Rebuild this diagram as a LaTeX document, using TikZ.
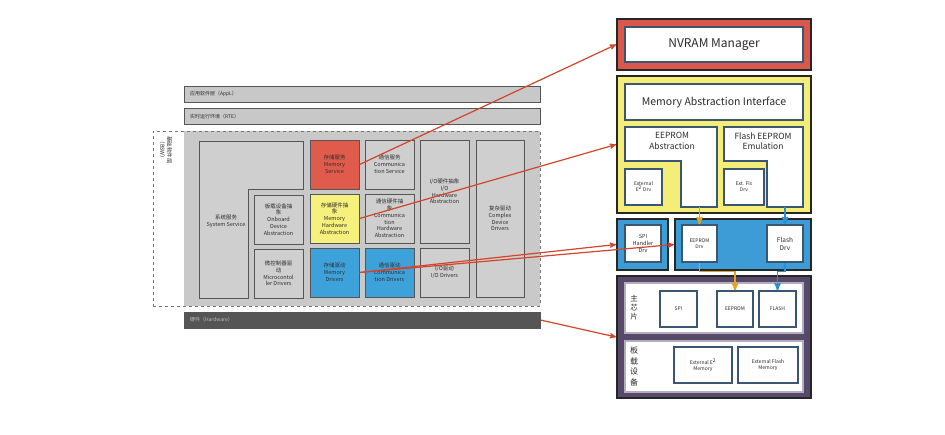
\documentclass[tikz,border=0pt]{standalone}
\usepackage{fontspec}
\setmainfont{Noto Sans CJK SC}
\usepackage{tikz}
\usetikzlibrary{arrows,positioning,calc}

\definecolor{barline}{HTML}{555555}
\definecolor{bargray}{HTML}{C8C8C8}
\definecolor{hwdark}{HTML}{555555}
\definecolor{bswgray}{HTML}{C9C9C9}
\definecolor{modgray}{HTML}{CFCFCF}
\definecolor{modtext}{HTML}{2E2E2E}
\definecolor{memred}{HTML}{E15B4C}
\definecolor{memyellow}{HTML}{F6F07C}
\definecolor{memblue}{HTML}{3EA2DA}
\definecolor{nvred}{HTML}{DA574C}
\definecolor{abyellow}{HTML}{F4EE78}
\definecolor{drvblue}{HTML}{3D9BD6}
\definecolor{hwpurple}{HTML}{56496A}
\definecolor{cellline}{HTML}{3B5673}
\definecolor{celltext}{HTML}{2B2B2B}
\definecolor{linkred}{HTML}{D2452B}
\definecolor{eeporange}{HTML}{E0A526}
\definecolor{flsblue}{HTML}{2B8FD6}

\tikzset{
    layerbar/.style={
           rectangle,
           draw=barline, line width=0.8pt,
           fill=bargray,
           minimum height=16pt,
           text width=344pt,
           inner xsep=6pt, inner ysep=0pt,
           align=left,
           text=modtext,
           font=\fontsize{5}{6}\selectfont,
           },
    module/.style={
           rectangle,
           draw=barline, line width=1pt,
           fill=modgray,
           minimum width=49pt,
           minimum height=49pt,
           inner sep=0pt,
           align=center,
           text=modtext,
           font=\fontsize{5.5}{6.8}\selectfont,
           },
    modlabel/.style={
           align=center,
           inner sep=0pt,
           text=modtext,
           font=\fontsize{5.5}{6.8}\selectfont,
           },
    outerbox/.style={
           rectangle,
           draw=black!85, line width=1.8pt,
           minimum width=194pt,
           inner sep=0pt,
           },
    cell/.style={
           rectangle,
           draw=cellline, line width=1.2pt,
           fill=white,
           inner sep=0pt,
           align=center,
           text=celltext,
           font=\fontsize{5}{6}\selectfont,
           },
    celllabel/.style={
           align=center,
           inner sep=0pt,
           text=celltext,
           },
    link/.style={
           ->, >=stealth', draw=linkred, line width=1.2pt,
           },
    feed/.style={
           ->, >=stealth', line width=1.6pt,
           },
}

\begin{document}
\begin{tikzpicture}[x=1pt,y=-1pt]

 \useasboundingbox[fill=white] (0,0) rectangle (945,434);

 % LEFT: layered architecture
 \node[layerbar] (APPL) at (362,94) {应用软件层（AppL）};
 \node[layerbar] (RTE) at (362,116.5) {实时运行环境（RTE）};

 % BSW area, gray part first, dashed frame on top
 \fill[bswgray] (184,131) rectangle (540,306);
 \node[rectangle, draw=black!55, dashed, line width=0.7pt,
 minimum width=387pt, minimum height=175pt] (BSW) at (346.5,218.5) {};
 \node[modlabel, rotate=-90,
 font=\fontsize{5.5}{7}\selectfont] (BSWLABEL) at (166,150)
 {基础软件层\\（BSW）};

 \node[layerbar, fill=hwdark, text=black!25] (HW) at (362,320)
 {硬件（Hardware）};

 % system service is an L shape
 \filldraw[draw=barline, fill=modgray, line width=1pt]
 (199,141) -- (303,141) -- (303,189) -- (248,189)
 -- (248,298) -- (199,298) -- cycle;
 \node[modlabel] (SYSSRV) at (226,221) {系统服务\\System Service};

 \node[module] (ONBOARD) at (278.5,219.5)
 {板载设备抽\\象\\Onboard\\Device\\Abstraction};
 \node[module] (MICRO) at (278.5,273.5)
 {微控制器驱\\动\\Microcontol\\ler Drivers};

 % memory stack
 \node[module, fill=memred] (MEMSRV) at (334.5,164.5)
 {存储服务\\Memory\\Service};
 \node[module, fill=memyellow] (MEMHW) at (334.5,218.5)
 {存储硬件抽\\象\\Memory\\Hardware\\Abstraction};
 \node[module, fill=memblue] (MEMDRV) at (334.5,272.5)
 {存储驱动\\Memory\\Drivers};

 % communication stack
 \node[module] (COMSRV) at (389.5,164.5)
 {通信服务\\Communica\\tion Service};
 \node[module] (COMHW) at (389.5,218.5)
 {通信硬件抽\\象\\Communica\\tion\\Hardware\\Abstraction};
 \node[module, fill=memblue] (COMDRV) at (389.5,272.5)
 {通信驱动\\Communica\\tion Drivers};

 % I/O stack
 \node[module, minimum height=103pt] (IOHW) at (444.5,191.5)
 {I/O硬件抽象\\I/O\\Hardware\\Abstraction};
 \node[module] (IODRV) at (444.5,272.5) {I/O驱动\\I/O Drivers};

 \node[module, minimum width=48pt, minimum height=157pt] (CDD) at (500,218.5)
 {复杂驱动\\Complex\\Device\\Drivers};

 % RIGHT: memory stack in detail
 \node[outerbox, fill=nvred, minimum height=51pt] (NVRAMBOX) at (714,44.5) {};
 \node[cell, minimum width=178pt, minimum height=35pt,
 font=\fontsize{12}{14}\selectfont] (NVRAM) at (714,44.5) {NVRAM Manager};

 \node[outerbox, fill=abyellow, minimum height=137pt] (ABBOX) at (714,144.5) {};
 \node[cell, minimum width=178pt, minimum height=36pt,
 font=\fontsize{10.5}{12}\selectfont] (MAI) at (714,102)
 {Memory Abstraction Interface};

 % the two abstractions are L shapes
 \filldraw[draw=cellline, fill=white, line width=1.2pt]
 (625,127) -- (717,127) -- (717,207) -- (681,207)
 -- (681,161) -- (625,161) -- cycle;
 \node[celllabel, font=\fontsize{8.5}{10.5}\selectfont] (EEPABS) at (672,141)
 {EEPROM\\Abstraction};
 \filldraw[draw=cellline, fill=white, line width=1.2pt]
 (724,127) -- (803,127) -- (803,207) -- (767,207)
 -- (767,161) -- (724,161) -- cycle;
 \node[celllabel, font=\fontsize{8.5}{10.5}\selectfont] (FLSEMU) at (763,141)
 {Flash EEPROM\\Emulation};

 \node[cell, minimum width=37pt, minimum height=36pt] (EXTE) at (643.5,187)
 {External\\E\textsuperscript{2} Drv};
 \node[cell, minimum width=40pt, minimum height=36pt] (EXTFLS) at (744,187)
 {Ext. Fls\\Drv};

 \coordinate (EEPABSBOT) at (699.5,207);
 \coordinate (FLSEMUBOT) at (785,207);

 % driver row
 \node[outerbox, fill=drvblue, minimum width=51pt, minimum height=51pt]
 (SPIBOX) at (642.5,244.5) {};
 \node[cell, minimum width=36pt, minimum height=37pt,
 font=\fontsize{5.5}{6.8}\selectfont] (SPI) at (643,243.5)
 {SPI\\Handler\\Drv};
 \node[outerbox, fill=drvblue, minimum width=136pt, minimum height=51pt]
 (DRVBOX) at (743,244.5) {};
 \node[cell, minimum width=35pt, minimum height=37pt] (EEPDRV) at (699.5,243.5)
 {EEPROM\\Drv};
 \node[cell, minimum width=36pt, minimum height=37pt,
 font=\fontsize{6.5}{8}\selectfont] (FLSDRV) at (785,243.5)
 {Flash\\Drv};

 % hardware
 \node[outerbox, fill=hwpurple, minimum height=122pt] (HWBOX) at (714,337) {};
 \node[cell, draw=hwpurple!45, minimum width=178pt, minimum height=50pt]
 (MCU) at (714,308) {};
 \node[cell, draw=hwpurple!45, minimum width=178pt, minimum height=51pt]
 (BOARD) at (714,366.5) {};
 \node[celllabel, font=\fontsize{7.5}{9}\selectfont] (MCULABEL) at (634,308)
 {主\\芯\\片};
 \node[celllabel, font=\fontsize{8}{10.5}\selectfont] (BOARDLABEL) at (634,366.5)
 {板\\载\\设\\备};

 \node[cell, minimum width=37pt, minimum height=36pt] (SPIHW) at (678.5,309) {SPI};
 \node[cell, minimum width=36pt, minimum height=36pt] (EEPHW) at (735,309) {EEPROM};
 \node[cell, minimum width=37pt, minimum height=36pt] (FLSHW) at (777.5,309) {FLASH};
 \node[cell, minimum width=58pt, minimum height=36pt] (EXTEMEM) at (703,365)
 {External E\textsuperscript{2}\\Memory};
 \node[cell, minimum width=60pt, minimum height=36pt] (EXTFLSMEM) at (768,365)
 {External Flash\\Memory};

 % feeds inside the stack
 \draw[feed, draw=eeporange] (EEPABSBOT) -- (EEPDRV.north);
 \draw[feed, draw=eeporange] (EEPDRV.south) -- ++(0,9) -| (EEPHW.north);
 \draw[feed, draw=flsblue] (FLSEMUBOT) -- (FLSDRV.north);
 \draw[feed, draw=flsblue] (FLSDRV.south) -- ++(0,9) -| (FLSHW.north);

 % links from left to right
 \path
 (MEMSRV.east) edge[link] (NVRAMBOX.west)
 (MEMHW.east) edge[link] (ABBOX.west)
 (MEMDRV.east) edge[link] (SPIBOX.west)
 (MEMDRV.east) edge[link] (DRVBOX.west)
 (HW.east) edge[link] (HWBOX.west)
 ;

\end{tikzpicture}
\end{document}
